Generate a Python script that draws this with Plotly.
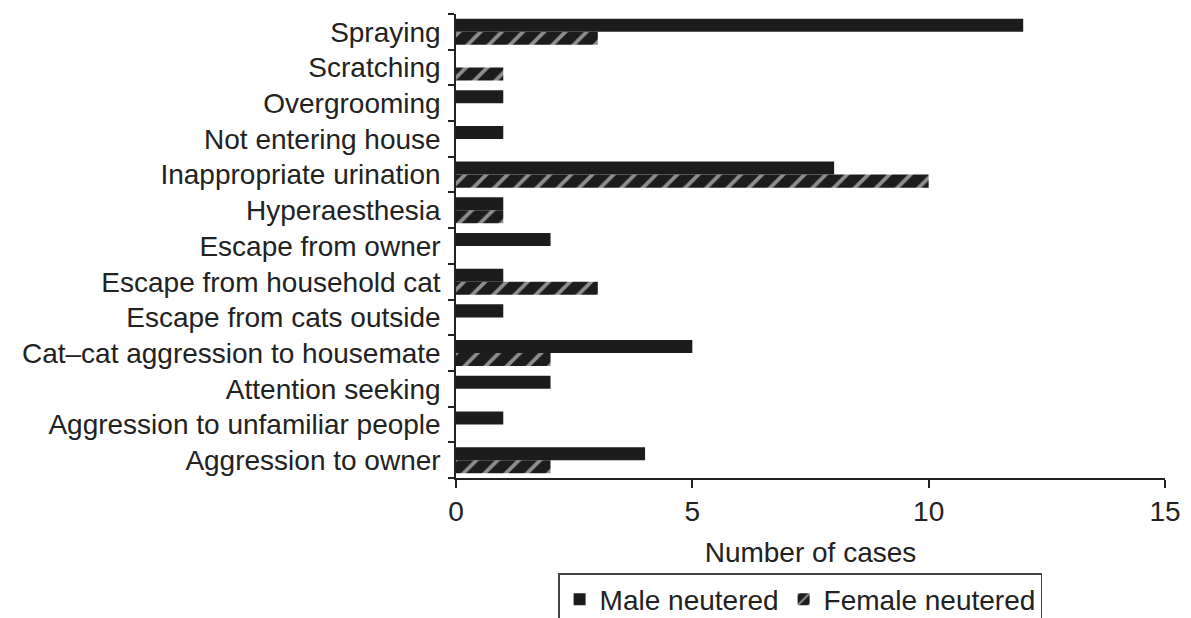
import plotly.graph_objects as go

categories = [
    "Spraying",
    "Scratching",
    "Overgrooming",
    "Not entering house",
    "Inappropriate urination",
    "Hyperaesthesia",
    "Escape from owner",
    "Escape from household cat",
    "Escape from cats outside",
    "Cat\u2013cat aggression to housemate",
    "Attention seeking",
    "Aggression to unfamiliar people",
    "Aggression to owner",
]
male_neutered = [12, 0, 1, 1, 8, 1, 2, 1, 1, 5, 2, 1, 4]
female_neutered = [3, 1, 0, 0, 10, 1, 0, 3, 0, 2, 0, 0, 2]
x_ticks = [0, 5, 10, 15]

FONT = "Liberation Sans, Arial, sans-serif"
INK = "#1c1c1c"
FS = 28

fig = go.Figure()
fig.add_trace(go.Bar(
    y=categories, x=female_neutered, orientation="h", name="Female neutered",
    marker=dict(color=INK, line=dict(width=0),
                pattern=dict(shape="/", fgcolor="white", bgcolor=INK, size=15, solidity=0.25)),
))
fig.add_trace(go.Bar(
    y=categories, x=male_neutered, orientation="h", name="Male neutered",
    marker=dict(color=INK, line=dict(width=0)),
))

fig.update_layout(
    width=1191, height=618,
    margin=dict(l=448, r=34, t=6, b=148, autoexpand=False),
    paper_bgcolor="white", plot_bgcolor="white",
    barmode="group", bargap=0.27, bargroupgap=0,
    font=dict(family=FONT, size=FS, color="#222"),
    showlegend=True,
    legend=dict(
        orientation="h", traceorder="reversed",
        x=0.144, y=-0.205, xanchor="left", yanchor="top",
        bordercolor="#444", borderwidth=1.5, bgcolor="white",
        font=dict(size=FS, color="#222"),
        itemwidth=30,
    ),
    xaxis=dict(
        range=[0, 15], tickvals=x_ticks, ticktext=[str(v) for v in x_ticks],
        showgrid=False, zeroline=False,
        showline=True, linecolor="#222", linewidth=1.5,
        ticks="outside", ticklen=8, tickcolor="#222", tickwidth=1.5,
        title=dict(text="Number of cases", standoff=16, font=dict(size=FS)),
        tickfont=dict(size=FS),
    ),
    yaxis=dict(
        categoryorder="array", categoryarray=categories[::-1],
        showgrid=False, zeroline=False,
        showline=True, linecolor="#222", linewidth=1.5,
        ticks="outside", tickson="boundaries", ticklen=6, tickcolor="#222", tickwidth=1.5,
        tickfont=dict(size=FS), ticklabelstandoff=8,
    ),
)

fig.write_html("out.html")
